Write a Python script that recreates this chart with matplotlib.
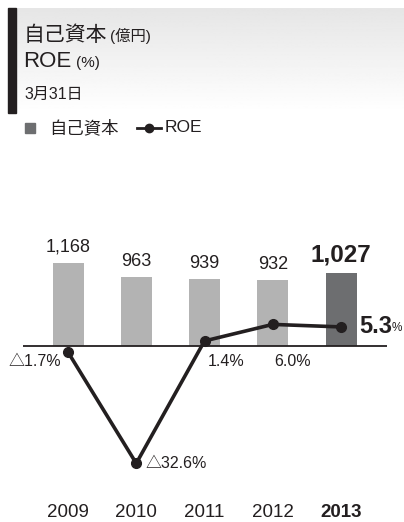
#!/usr/bin/env python3
import numpy as np
import matplotlib.pyplot as plt
from matplotlib.patches import Rectangle
from matplotlib.lines import Line2D

plt.rcParams['font.family'] = ['Liberation Sans', 'Noto Sans CJK JP', 'DejaVu Sans']

# ------------------------- data -------------------------
years = ["2009", "2010", "2011", "2012", "2013"]
equity = [1168, 963, 939, 932, 1027]        # 自己資本 (億円)
roe = [-1.7, -32.6, 1.4, 6.0, 5.3]          # ROE (%)
equity_labels = ["1,168", "963", "939", "932", "1,027"]
roe_labels = ["△1.7%", "△32.6%", "1.4%", "6.0%", "5.3"]

W, H = 404, 522
fig = plt.figure(figsize=(W / 100, H / 100), dpi=100)

# pixel helpers (from top-left)
def fx(px):
    return px / W

def fy(py):
    return 1 - py / H

# ------------------------- header -------------------------
hax = fig.add_axes([fx(8), fy(113), 1 - fx(8), (113 - 8) / H])
grad = np.linspace(0.90, 1.0, 100).reshape(-1, 1)
hax.imshow(grad, cmap="gray", vmin=0, vmax=1, aspect="auto",
           extent=[0, 1, 1, 0])
hax.set_axis_off()
fig.patches.append(Rectangle((fx(8), fy(113)), 8 / W, 105 / H,
                             transform=fig.transFigure, color="#231f20", zorder=3))

ink = "#231f20"
fig.text(fx(24), fy(41), "自己資本", fontsize=15, color=ink, va="baseline")
fig.text(fx(110), fy(41), "(億円)", fontsize=11, color=ink, va="baseline")
fig.text(fx(23), fy(67), "ROE", fontsize=16, color=ink, va="baseline")
fig.text(fx(76), fy(67), "(%)", fontsize=11, color=ink, va="baseline")
fig.text(fx(24), fy(99), "3月31日", fontsize=11.5, color=ink, va="baseline")

# legend
fig.patches.append(Rectangle((fx(25), fy(133)), 10 / W, 10 / H,
                             transform=fig.transFigure, color="#6d6e70"))
fig.text(fx(49), fy(128), "自己資本", fontsize=12.5, color=ink, va="center")
fig.lines.append(Line2D([fx(137), fx(161)], [fy(128), fy(128)], transform=fig.transFigure,
                        color=ink, lw=2))
fig.lines.append(Line2D([fx(149)], [fy(128)], transform=fig.transFigure,
                        color=ink, marker="o", markersize=6))
fig.text(fx(165), fy(128), "ROE", fontsize=12.5, color=ink, va="center")

# ------------------------- chart -------------------------
ax = fig.add_axes([0, 0, 1, 1])
ax.set_axis_off()
ax.patch.set_alpha(0)
x = np.arange(len(years))
step = 68.25
ax.set_xlim(-68 / step, (W - 68) / step)
base_px = H - 346
eq_per_px = 1 / 0.0712
ax.set_ylim(-base_px * eq_per_px, (H - base_px) * eq_per_px)

colors = ["#b3b3b3"] * 4 + ["#6d6e70"]
ax.bar(x, equity, width=31 / step, color=colors, zorder=1)

ax.hlines(0, -45 / step, 319 / step, color=ink, lw=1.3, zorder=2)

for i, (v, lab) in enumerate(zip(equity, equity_labels)):
    last = i == len(years) - 1
    ax.annotate(lab, (x[i], v), xytext=(0, 8), textcoords="offset points",
                ha="center", va="baseline", fontsize=17.5 if last else 13,
                fontweight="bold" if last else "normal", color=ink)

for i, yr in enumerate(years):
    last = i == len(years) - 1
    ax.text(x[i], 5 / H, yr, transform=ax.get_xaxis_transform(), ha="center",
            va="baseline", fontsize=13.5, fontweight="bold" if last else "normal",
            color=ink)

ax2 = ax.twinx()
ax2.set_axis_off()
roe_per_px = 1 / 3.6
ax2.set_ylim(-base_px * roe_per_px, (H - base_px) * roe_per_px)
ax2.plot(x, roe, color=ink, lw=2.6, marker="o", markersize=7, zorder=3)

# label offsets in points (dx, dy), alignment
offsets = [(-5, -7, "right"), (7, 0, "left"), (2, -15, "left"), (1, -27, "left"), (13, 0, "left")]
for i, (v, lab) in enumerate(zip(roe, roe_labels)):
    dx, dy, ha = offsets[i]
    last = i == len(years) - 1
    t = ax2.annotate(lab, (x[i], v), xytext=(dx, dy), textcoords="offset points",
                     ha=ha, va="center", fontsize=17 if last else 11.5,
                     fontweight="bold" if last else "normal", color=ink)
    if last:
        ax2.annotate("%", xy=(1, 0.18), xycoords=t, xytext=(-0.5, 0), textcoords="offset points",
                     ha="left", va="bottom", fontsize=8.5, color=ink)

fig.savefig("out.png", dpi=100)
